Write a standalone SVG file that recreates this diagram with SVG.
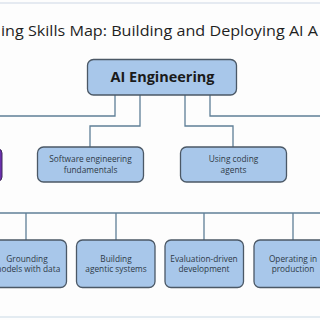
<svg xmlns="http://www.w3.org/2000/svg" width="320" height="320" viewBox="0 0 320 320">
<style>
.box{fill:#a8c7ea;stroke:#4b5866;stroke-width:1.3}
.conn{fill:none;stroke:#5f7f97;stroke-width:1.3}
.t{font-family:"Open Sans","Noto Sans",sans-serif;font-size:8.3px;fill:#2e3a46;text-anchor:middle}
.title{font-family:"Open Sans","Noto Sans",sans-serif;font-size:15px;fill:#1f1f1f}
.main{font-family:"Open Sans","Noto Sans",sans-serif;font-size:14px;font-weight:700;fill:#1a1a1a;text-anchor:middle}
</style>
<rect width="320" height="320" fill="#fdfdfd"/>
<line x1="0" y1="3" x2="320" y2="3" stroke="#dde3ec" stroke-width="1.5"/>
<line x1="0" y1="317" x2="320" y2="317" stroke="#c9d9e5" stroke-width="1.2"/>
<text class="title" x="1" y="36" textLength="317" lengthAdjust="spacingAndGlyphs">ing Skills Map: Building and Deploying AI A</text>
<g id="connectors">
<path class="conn" d="M115 95V116H0"/>
<path class="conn" d="M140 95V126H90V147"/>
<path class="conn" d="M185 95V126H233V147"/>
<path class="conn" d="M210 95V116H320"/>
<path class="conn" d="M0 213H320"/>
<path class="conn" d="M26 213V240"/>
<path class="conn" d="M116 213V240"/>
<path class="conn" d="M204 213V240"/>
<path class="conn" d="M293 213V240"/>
</g>
<g id="ai-engineering">
<rect class="box" x="87.5" y="59.5" width="149" height="35.5" rx="6"/>
<text class="main" x="162.5" y="82" textLength="104" lengthAdjust="spacingAndGlyphs">AI Engineering</text>
</g>
<g id="purple-node">
<rect x="-10" y="149" width="12" height="32" rx="4" fill="#6b2fae" stroke="#3e2a5a" stroke-width="1"/>
</g>
<g id="software-engineering">
<rect class="box" x="37.5" y="147" width="106" height="35" rx="6"/>
<text class="t" x="90.5" y="162">Software engineering</text>
<text class="t" x="90.5" y="173">fundamentals</text>
</g>
<g id="coding-agents">
<rect class="box" x="180.5" y="147" width="106" height="35" rx="6"/>
<text class="t" x="233.5" y="162">Using coding</text>
<text class="t" x="233.5" y="173">agents</text>
</g>
<g id="grounding">
<rect class="box" x="-13" y="240" width="79.5" height="47.5" rx="6"/>
<text class="t" x="27" y="262">Grounding</text>
<text class="t" x="27" y="272">models with data</text>
</g>
<g id="agentic">
<rect class="box" x="76.5" y="240" width="78.5" height="47.5" rx="6"/>
<text class="t" x="116" y="262">Building</text>
<text class="t" x="116" y="272">agentic systems</text>
</g>
<g id="evaluation">
<rect class="box" x="165" y="240" width="78.5" height="47.5" rx="6"/>
<text class="t" x="204" y="262">Evaluation-driven</text>
<text class="t" x="204" y="272">development</text>
</g>
<g id="operating">
<rect class="box" x="254" y="240" width="78.5" height="47.5" rx="6"/>
<text class="t" x="293" y="262">Operating in</text>
<text class="t" x="293" y="272">production</text>
</g>
</svg>
